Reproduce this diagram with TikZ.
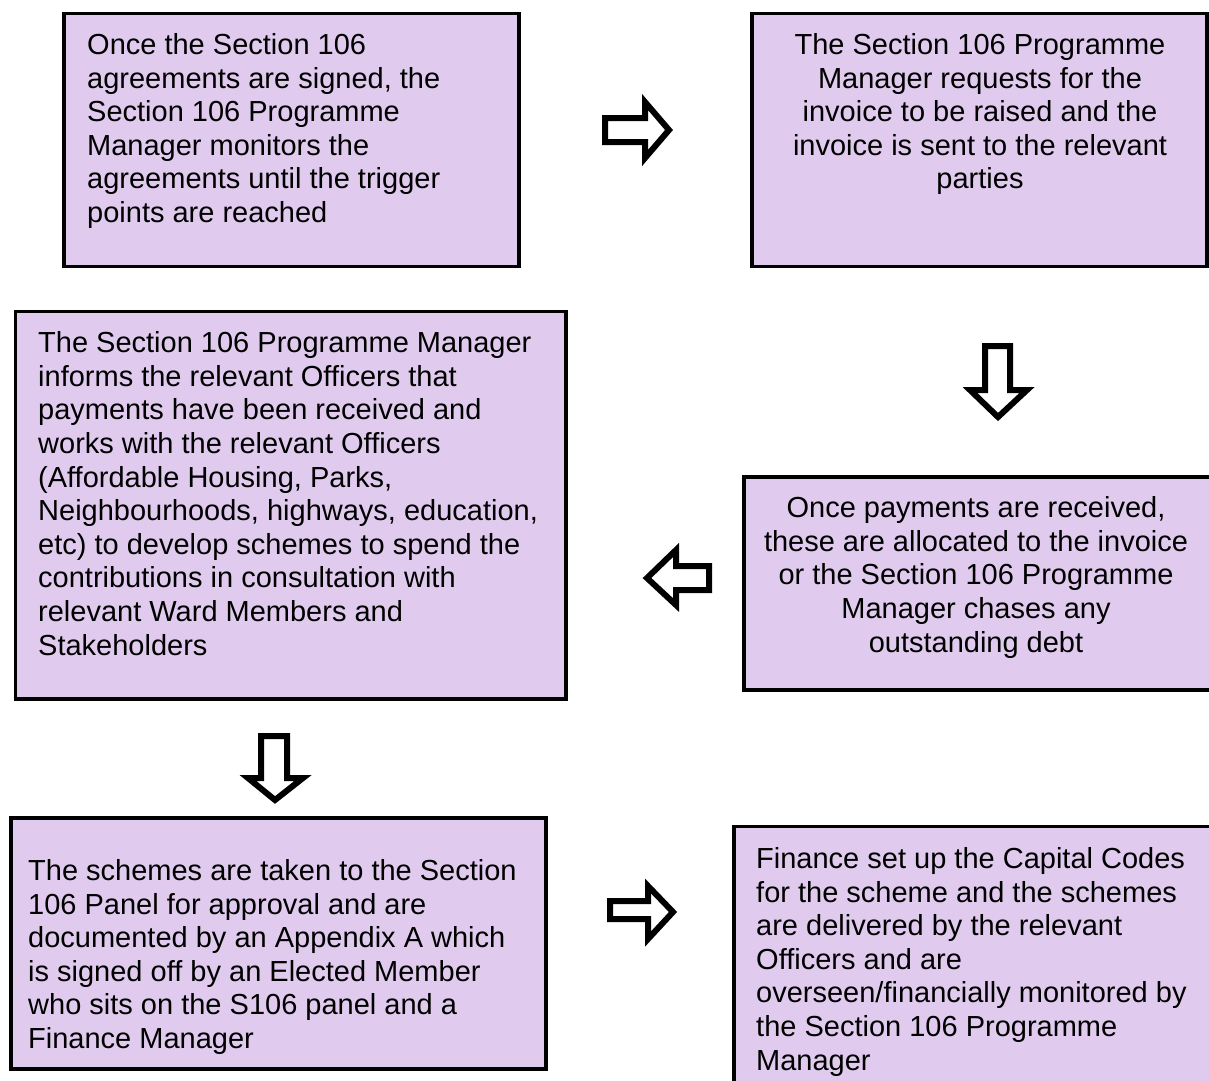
\documentclass[tikz,border=0pt]{standalone}
\usepackage{fontspec}
\setmainfont{Liberation Sans}
\definecolor{boxfill}{RGB}{224,203,238}
\begin{document}
\begin{tikzpicture}[x=1pt,y=-1pt,
  stagebox/.style={draw=black, fill=boxfill, line width=3.6pt, rectangle, inner sep=0pt, outer sep=0pt, anchor=north west},
  lefttxt/.style={anchor=north west, inner sep=0pt, align=left, font={\fontsize{29}{33.6}\selectfont}},
  centxt/.style={anchor=north, inner sep=0pt, align=center, font={\fontsize{29}{33.6}\selectfont}},
  blockarrow/.style={draw=black, fill=white, line width=6pt, miter limit=20}]
\useasboundingbox (0,0) rectangle (1209,1080);
% boxes
\node[stagebox, minimum width=455pt, minimum height=253pt] (b1) at (64,13.5) {};
\node[stagebox, minimum width=455pt, minimum height=253pt] (b2) at (752,13.5) {};
\node[stagebox, minimum width=550.5pt, minimum height=387.5pt] (b3) at (15.5,311.5) {};
\node[stagebox, minimum width=480pt, minimum height=213pt] (b4) at (744,477) {};
\node[stagebox, minimum width=535pt, minimum height=251pt] (b5) at (11,818) {};
\node[stagebox, minimum width=490pt, minimum height=300pt] (b6) at (734,826.5) {};
% texts
\node[lefttxt] (t1) at (87,33.2) {Once the Section 106\\agreements are signed, the\\Section 106 Programme\\Manager monitors the\\agreements until the trigger\\points are reached};
\node[centxt] (t2) at (980,33.2) {The Section 106 Programme\\Manager requests for the\\invoice to be raised and the\\invoice is sent to the relevant\\parties};
\node[lefttxt] (t3) at (38,331.5) {The Section 106 Programme Manager\\informs the relevant Officers that\\payments have been received and\\works with the relevant Officers\\(Affordable Housing, Parks,\\Neighbourhoods, highways, education,\\etc) to develop schemes to spend the\\contributions in consultation with\\relevant Ward Members and\\Stakeholders};
\node[centxt] (t4) at (976,496.5) {Once payments are received,\\these are allocated to the invoice\\or the Section 106 Programme\\Manager chases any\\outstanding debt};
\node[lefttxt] (t5) at (28,859.2) {The schemes are taken to the Section\\106 Panel for approval and are\\documented by an Appendix A which\\is signed off by an Elected Member\\who sits on the S106 panel and a\\Finance Manager};
\node[lefttxt] (t6) at (756,847.2) {Finance set up the Capital Codes\\for the scheme and the schemes\\are delivered by the relevant\\Officers and are\\overseen/financially monitored by\\the Section 106 Programme\\Manager};
% block arrows
\draw[blockarrow] (605,118) -- (645,118) -- (645,102) -- (669,130) -- (645,158) -- (645,142) -- (605,142) -- cycle;
\draw[blockarrow] (985,346) -- (1010,346) -- (1010,390) -- (1027,390) -- (998,417) -- (970,390) -- (985,390) -- cycle;
\draw[blockarrow] (709,566) -- (676,566) -- (676,550) -- (647,578) -- (676,605) -- (676,590) -- (709,590) -- cycle;
\draw[blockarrow] (261,736) -- (287,736) -- (287,778) -- (303,778) -- (275,800) -- (248,778) -- (261,778) -- cycle;
\draw[blockarrow] (610,901) -- (648,901) -- (648,886) -- (673,912) -- (648,939) -- (648,919) -- (610,919) -- cycle;
\end{tikzpicture}
\end{document}
